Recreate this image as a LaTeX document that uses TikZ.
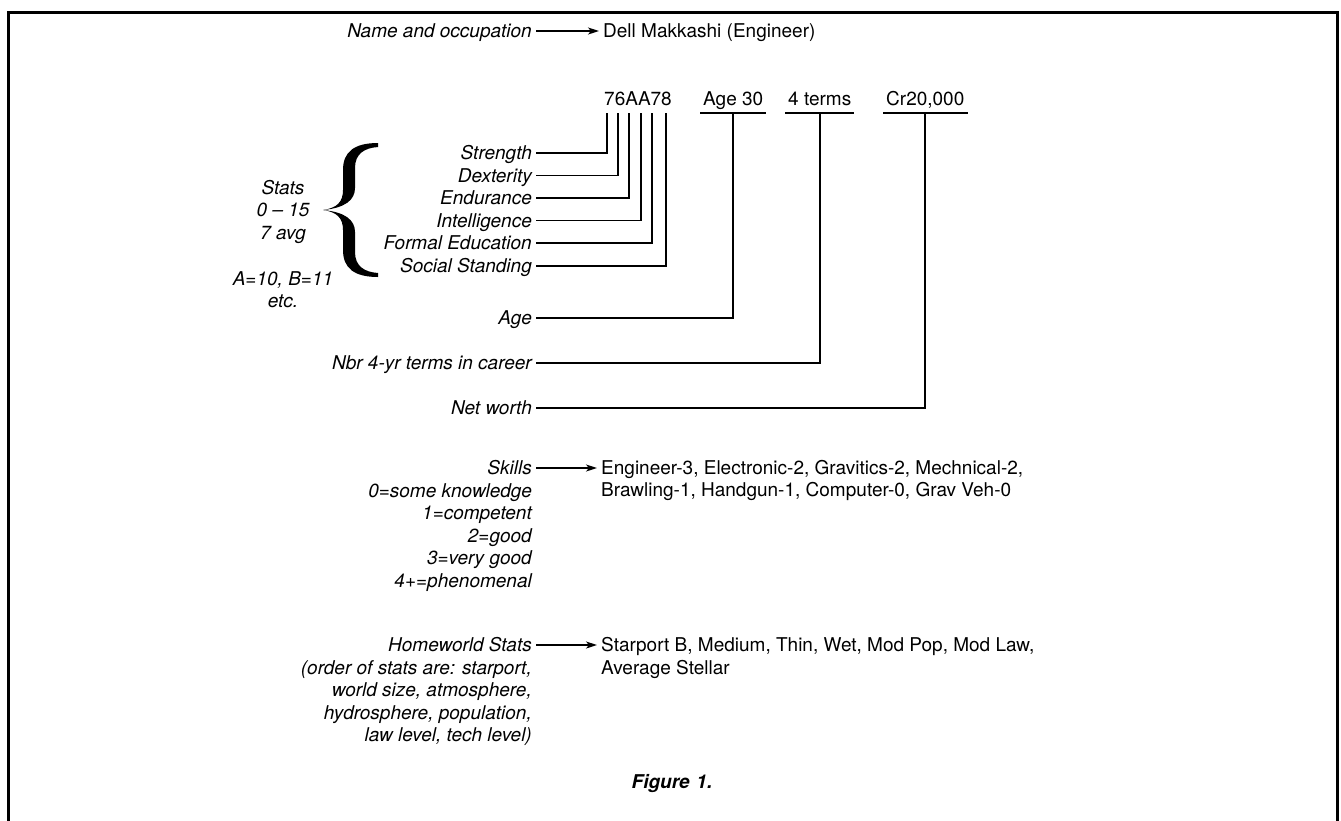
\documentclass[tikz,border=0pt]{standalone}
\usepackage{fontspec}
\setmainfont{TeX Gyre Heros}
\usepackage{tikz}
\usetikzlibrary{arrows.meta}
\newcommand{\figfont}{\fontsize{19}{22.5}\selectfont}
\tikzset{
  lbl/.style={font=\figfont\itshape, anchor=east, inner sep=4pt, text height=13.5pt, text depth=0pt},
  val/.style={font=\figfont, anchor=west, inner sep=4pt, text height=13.5pt, text depth=0pt},
  ulval/.style={font=\figfont, anchor=west, inner sep=3pt, text height=13.5pt, text depth=4.5pt},
  note/.style={font=\figfont\itshape, inner sep=4pt},
  wire/.style={line width=1.6pt},
  ptr/.style={wire, -{Stealth[length=11pt,width=7pt,inset=3pt]}},
}

\begin{document}
\begin{tikzpicture}[x=1pt,y=-1pt]
    \useasboundingbox (0,0) rectangle (1341,820);
    \draw[line width=3pt] (8,822) -- (8,12) -- (1337,12) -- (1337,822);
    % name line
    \node[lbl] (namelbl) at (536,31) {Name and occupation};
    \node[val] (name) at (599,31) {Dell Makkashi (Engineer)};
    \draw[ptr] (namelbl) -- (name);
    % values
    \node[ulval] (code) at (601,100.5) {76AA78};
    \node[ulval] (age30) at (700,100.5) {Age 30};
    \node[ulval] (terms) at (785,100.5) {4 terms};
    \node[ulval] (cr) at (883,100.5) {Cr20,000};
    \draw[wire] (age30.south west) -- (age30.south east);
    \draw[wire] (terms.south west) -- (terms.south east);
    \draw[wire] (cr.south west) -- (cr.south east);
    \coordinate (t1) at (607,113);
    \coordinate (t2) at (618,113);
    \coordinate (t3) at (629,113);
    \coordinate (t4) at (641,113);
    \coordinate (t5) at (652,113);
    \coordinate (t6) at (666,113);
    % stats
    \node[lbl] (str) at (536,153) {Strength};
    \node[lbl] (dex) at (536,175.5) {Dexterity};
    \node[lbl] (endu) at (536,198) {Endurance};
    \node[lbl] (intl) at (536,220.5) {Intelligence};
    \node[lbl] (edu) at (536,243) {Formal Education};
    \node[lbl] (soc) at (536,266) {Social Standing};
    \draw[wire] (str.east) -| (t1);
    \draw[wire] (dex.east) -| (t2);
    \draw[wire] (endu.east) -| (t3);
    \draw[wire] (intl.east) -| (t4);
    \draw[wire] (edu.east) -| (t5);
    \draw[wire] (soc.east) -| (t6);
    % brace
    \fill (378,143) .. controls (354,143) and (343,152) .. (343,170) -- (343,190)
      .. controls (343,202) and (337,208) .. (323,210)
      .. controls (337,212) and (343,218) .. (343,230) -- (343,250)
      .. controls (343,268) and (354,277) .. (378,277) -- (378,273)
      .. controls (364,272) and (355,266) .. (355,252) -- (355,232)
      .. controls (355,220) and (345,212) .. (323,210)
      .. controls (345,208) and (355,200) .. (355,188) -- (355,168)
      .. controls (355,154) and (364,148) .. (378,147) -- cycle;
    \node[note, anchor=north, align=center] (stats) at (283,176) {Stats\\0 -- 15\\7 avg};
    \node[note, anchor=north, align=center] (hexnote) at (283,267) {A=10, B=11\\etc.};
    % age, terms, worth
    \node[lbl] (age) at (536,318) {Age};
    \node[lbl] (nbr) at (536,363) {Nbr 4-yr terms in career};
    \node[lbl] (worth) at (536,408) {Net worth};
    \draw[wire] (age.east) -| (age30.south);
    \draw[wire] (nbr.east) -| (terms.south);
    \draw[wire] (worth.east) -| (cr.south);
    % skills
    \node[lbl] (skills) at (536,468) {Skills};
    \node[val] (skl1) at (597,468) {Engineer-3, Electronic-2, Gravitics-2, Mechnical-2,};
    \node[val] (skl2) at (597,490) {Brawling-1, Handgun-1, Computer-0, Grav Veh-0};
    \draw[ptr] (skills) -- (skl1);
    \node[note, anchor=north east, align=right] (sklscale) at (536,479)
      {0=some knowledge\\1=competent\\2=good\\3=very good\\4+=phenomenal};
    % homeworld
    \node[lbl] (home) at (536,645) {Homeworld Stats};
    \node[val] (hw1) at (597,645) {Starport B, Medium, Thin, Wet, Mod Pop, Mod Law,};
    \node[val] (hw2) at (597,667.5) {Average Stellar};
    \draw[ptr] (home) -- (hw1);
    \node[note, anchor=north east, align=right] (hwnote) at (536,656)
      {(order of stats are: starport,\\world size, atmosphere,\\hydrosphere, population,\\law level, tech level)};
    \node[font=\figfont\bfseries\itshape] (cap) at (672,784) {Figure\hspace{0.35em}1.};
\end{tikzpicture}
\end{document}
